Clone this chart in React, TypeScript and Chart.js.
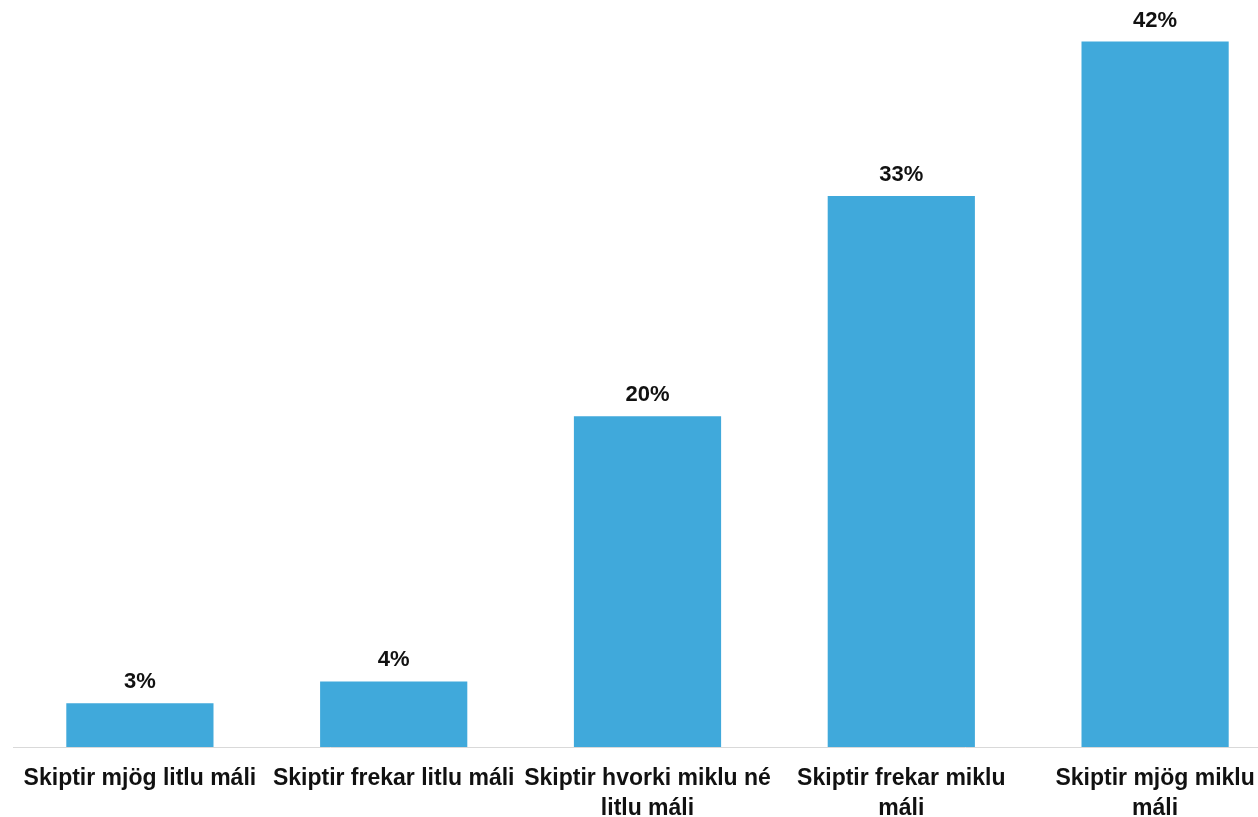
import React, { useEffect, useRef } from "react";
import { Chart, registerables } from "chart.js";

Chart.register(...registerables);

const categories: string[][] = [
  ["Skiptir mjög litlu máli"],
  ["Skiptir frekar litlu máli"],
  ["Skiptir hvorki miklu né", "litlu máli"],
  ["Skiptir frekar miklu", "máli"],
  ["Skiptir mjög miklu", "máli"],
];
const values: number[] = [2.6, 3.9, 19.7, 32.8, 42.0];
const valueLabels: string[] = ["3%", "4%", "20%", "33%", "42%"];

const BAR_COLOR = "#40A9DB";
const FONT = "'Liberation Sans', Arial, sans-serif";

const labelPlugin = {
  id: "barValueLabels",
  afterDatasetsDraw(chart: any) {
    const ctx = chart.ctx;
    const meta = chart.getDatasetMeta(0);
    ctx.save();
    ctx.font = `bold 22px ${FONT}`;
    ctx.fillStyle = "#111111";
    ctx.textAlign = "center";
    ctx.textBaseline = "alphabetic";
    meta.data.forEach((el: any, i: number) => {
      ctx.fillText(valueLabels[i], el.x, el.y - 15);
    });
    ctx.restore();
  },
};

export default function App() {
  const ref = useRef<HTMLCanvasElement | null>(null);

  useEffect(() => {
    if (!ref.current) return;
    const chart = new Chart(ref.current, {
      type: "bar",
      data: {
        labels: categories,
        datasets: [
          {
            data: values,
            backgroundColor: BAR_COLOR,
            borderWidth: 0,
            barPercentage: 0.58,
            categoryPercentage: 1,
          },
        ],
      },
      options: {
        responsive: false,
        animation: false,
        layout: { padding: { left: 13, right: 0, top: 8, bottom: 0 } },
        plugins: {
          legend: { display: false },
          tooltip: { enabled: false },
        },
        scales: {
          x: {
            grid: { display: false },
            border: { display: true, color: "#D9D9D9", width: 1 },
            ticks: {
              color: "#111111",
              font: { family: FONT, size: 23, weight: "bold", lineHeight: 1.3 },
              padding: 9,
              maxRotation: 0,
              autoSkip: false,
            },
            afterFit: (s: any) => {
              s.height = 70;
            },
          },
          y: {
            display: false,
            min: 0,
            max: 44,
          },
        },
      },
      plugins: [labelPlugin],
    });
    return () => chart.destroy();
  }, []);

  return (
    <div
      style={{
        position: "fixed",
        left: 0,
        top: 0,
        width: 1258,
        height: 817,
        overflow: "hidden",
        background: "#ffffff",
      }}
    >
      <canvas ref={ref} width={1282} height={817} style={{ width: 1282, height: 817 }} />
    </div>
  );
}
